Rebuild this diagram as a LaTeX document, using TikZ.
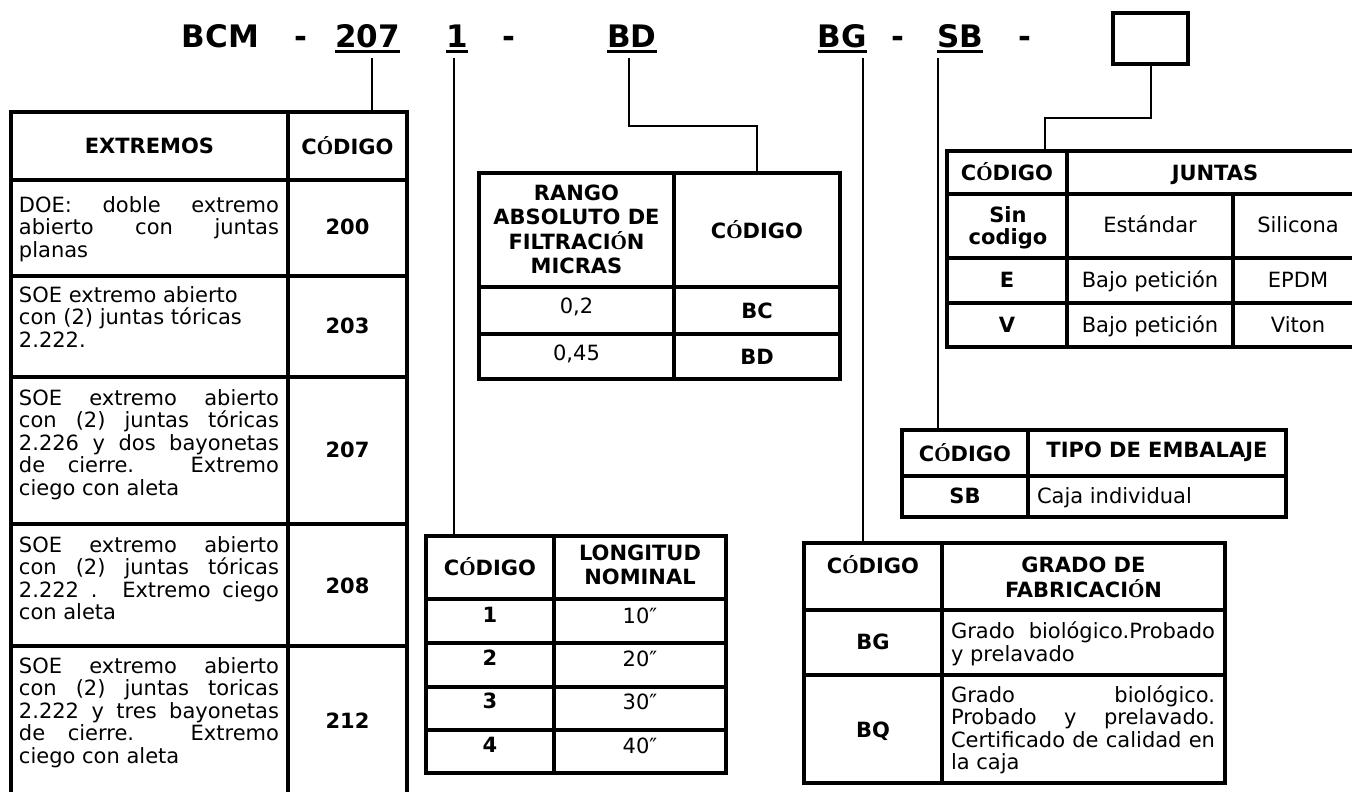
\documentclass[tikz,border=0pt]{standalone}
\usepackage{fontspec}
\setmainfont{DejaVu Sans}
\newfontfamily\serifO{Liberation Serif}
\newcommand\OO{{\serifO\bfseries Ó}}
\newcommand\jl[1]{\makebox[260pt][s]{#1}}
\newcommand\jg[1]{\makebox[264pt][s]{#1}}
\begin{document}
\begin{tikzpicture}[x=1pt,y=-1pt,
 tbl/.style={draw, line width=3.2pt, inner sep=0pt, outer sep=0pt, anchor=north west},
 rule/.style={line width=3.2pt},
 conn/.style={line width=2.2pt},
 tx/.style={inner sep=0pt, outer sep=0pt, anchor=base, font=\fontsize{21}{22.5}\selectfont},
 txl/.style={tx, anchor=base west},
 tb/.style={tx, font=\fontsize{21}{22.5}\selectfont\bfseries},
 ttl/.style={inner sep=0pt, outer sep=0pt, anchor=base, font=\fontsize{31}{31}\selectfont\bfseries},
 uline/.style={line width=3pt},
]
\useasboundingbox (0,0) rectangle (1352,792);
\clip (0,0) rectangle (1352,792);

% ---------- title ----------
\node[ttl] (tBCM) at (220.5,48) {BCM};
\node[ttl] (td1) at (300.5,48) {-};
\node[ttl] (t207) at (367.5,48) {207};
\node[ttl] (t1) at (457,48) {1};
\node[ttl] (td2) at (509,48) {-};
\node[ttl] (tBD) at (632,48) {BD};
\node[ttl] (tBG) at (842.5,48) {BG};
\node[ttl] (td3) at (897.5,48) {-};
\node[ttl] (tSB) at (960,48) {SB};
\node[ttl] (td4) at (1025,48) {-};
\foreach \n in {t207,t1,tBD,tBG,tSB}
  \draw[uline] ([yshift=-4pt]\n.base west) -- ([yshift=-4pt]\n.base east);
\node[tbl, minimum width=75pt, minimum height=51pt] (box) at (1113,13) {};

% ---------- tables (outer frames) ----------
\node[tbl, minimum width=396pt, minimum height=700pt] (ext) at (11,112) {};
\node[tbl, minimum width=361pt, minimum height=206pt] (rng) at (479,173) {};
\node[tbl, minimum width=300pt, minimum height=237pt] (lon) at (426,536) {};
\node[tbl, minimum width=421pt, minimum height=240pt] (gra) at (804,543) {};
\node[tbl, minimum width=420pt, minimum height=196pt] (jun) at (947,151) {};
\node[tbl, minimum width=384pt, minimum height=87pt] (tip) at (902,430) {};

% ---------- connectors ----------
\coordinate (k207) at (372,58);
\coordinate (k1) at (454,58);
\coordinate (kBD) at (629,58);
\coordinate (kBDa) at (629,126);
\coordinate (kBDb) at (757,126);
\coordinate (kBG) at (863,58);
\coordinate (kSB) at (938,58);
\coordinate (kbx) at (1151,118);
\coordinate (kbj) at (1045,118);
\draw[conn] (k207) -- (k207 |- ext.north);
\draw[conn] (k1) -- (k1 |- lon.north);
\draw[conn] (kBD) -- (kBDa) -- (kBDb) -- (kBDb |- rng.north);
\draw[conn] (kBG) -- (kBG |- gra.north);
\draw[conn] (kSB) -- (kSB |- tip.north);
\draw[conn] (box.south -| kbx) -- (kbx) -- (kbj) -- (kbj |- jun.north);

% ---------- EXTREMOS table ----------
\draw[rule] (288,112) -- (288,800);
\foreach \yy in {180,276,377,524,646} \draw[rule] (11,\yy) -- (407,\yy);
\node[tb] (eh1) at (149.5,153) {EXTREMOS};
\node[tb] (eh2) at (347.5,154) {C\OO DIGO};
\node[txl] (e1a) at (19,212) {\jl{DOE: doble extremo}};
\node[txl] (e1b) at (19,234.5) {\jl{abierto con juntas}};
\node[txl] (e1c) at (19,257) {planas};
\node[tb] (e1k) at (347.5,234) {200};
\node[txl] (e2a) at (19,302) {SOE extremo abierto};
\node[txl] (e2b) at (19,324.5) {con (2) juntas tóricas};
\node[txl] (e2c) at (19,347) {2.222.};
\node[tb] (e2k) at (347.5,333) {203};
\node[txl] (e3a) at (19,405) {\jl{SOE extremo abierto}};
\node[txl] (e3b) at (19,427.5) {\jl{con (2) juntas tóricas}};
\node[txl] (e3c) at (19,450) {\jl{2.226 y dos bayonetas}};
\node[txl] (e3d) at (19,472.5) {\jl{de cierre. Extremo}};
\node[txl] (e3e) at (19,495) {ciego con aleta};
\node[tb] (e3k) at (347.5,457) {207};
\node[txl] (e4a) at (19,552) {\jl{SOE extremo abierto}};
\node[txl] (e4b) at (19,574.5) {\jl{con (2) juntas tóricas}};
\node[txl] (e4c) at (19,597) {\jl{2.222 . Extremo ciego}};
\node[txl] (e4d) at (19,619.5) {con aleta};
\node[tb] (e4k) at (347.5,593) {208};
\node[txl] (e5a) at (19,673) {\jl{SOE extremo abierto}};
\node[txl] (e5b) at (19,695.5) {\jl{con (2) juntas toricas}};
\node[txl] (e5c) at (19,718) {\jl{2.222 y tres bayonetas}};
\node[txl] (e5d) at (19,740.5) {\jl{de cierre. Extremo}};
\node[txl] (e5e) at (19,763) {ciego con aleta};
\node[tb] (e5k) at (347.5,728) {212};

% ---------- RANGO table ----------
\draw[rule] (674,173) -- (674,379);
\foreach \yy in {287,334} \draw[rule] (479,\yy) -- (840,\yy);
\node[tb] (r1) at (576.5,200) {RANGO};
\node[tb] (r2) at (576.5,224.5) {ABSOLUTO DE};
\node[tb] (r3) at (576.5,249) {FILTRACI\OO N};
\node[tb] (r4) at (576.5,273.5) {MICRAS};
\node[tb] (rh) at (757,238) {C\OO DIGO};
\node[tx] (rv1) at (576.5,313) {0,2};
\node[tb] (rk1) at (757,318) {BC};
\node[tx] (rv2) at (576.5,360) {0,45};
\node[tb] (rk2) at (757,364) {BD};

% ---------- LONGITUD table ----------
\draw[rule] (554,536) -- (554,773);
\foreach \yy in {599,643,687,730} \draw[rule] (426,\yy) -- (726,\yy);
\node[tb] (lh1) at (490,575) {C\OO DIGO};
\node[tb] (lh2) at (640,560) {LONGITUD};
\node[tb] (lh3) at (640,584) {NOMINAL};
\node[tb] (lk1) at (490,622) {1};
\node[tx] (lv1) at (640,623) {10″};
\node[tb] (lk2) at (490,665) {2};
\node[tx] (lv2) at (640,666) {20″};
\node[tb] (lk3) at (490,708) {3};
\node[tx] (lv3) at (640,709) {30″};
\node[tb] (lk4) at (490,752) {4};
\node[tx] (lv4) at (640,753) {40″};

% ---------- GRADO table ----------
\draw[rule] (942,543) -- (942,783);
\foreach \yy in {610,675} \draw[rule] (804,\yy) -- (1225,\yy);
\node[tb] (gh1) at (873,573) {C\OO DIGO};
\node[tb] (gh2) at (1083.5,572) {GRADO DE};
\node[tb] (gh3) at (1083.5,597) {FABRICACI\OO N};
\node[tb] (gk1) at (873,649) {BG};
\node[txl] (g1a) at (951,638.5) {\jg{Grado biológico.Probado}};
\node[txl] (g1b) at (951,661.5) {y prelavado};
\node[tb] (gk2) at (873,737) {BQ};
\node[txl] (g2a) at (951,702) {\jg{Grado biológico.}};
\node[txl] (g2b) at (951,724.5) {\jg{Probado y prelavado.}};
\node[txl] (g2c) at (951,747) {\jg{Certificado de calidad en}};
\node[txl] (g2d) at (951,769.5) {la caja};

% ---------- JUNTAS table ----------
\draw[rule] (1067,151) -- (1067,347);
\draw[rule] (1233,194) -- (1233,347);
\foreach \yy in {194,258,303} \draw[rule] (947,\yy) -- (1367,\yy);
\node[tb] (jh1) at (1007,180) {C\OO DIGO};
\node[tb] (jh2) at (1215,180) {JUNTAS};
\node[tb] (jk1a) at (1008,222) {Sin};
\node[tb] (jk1b) at (1008,244) {codigo};
\node[tx] (j1a) at (1150,232) {Estándar};
\node[tx] (j1b) at (1298,232) {Silicona};
\node[tb] (jk2) at (1007,287) {E};
\node[tx] (j2a) at (1150,287) {Bajo petición};
\node[tx] (j2b) at (1298,287) {EPDM};
\node[tb] (jk3) at (1007,332) {V};
\node[tx] (j3a) at (1150,332) {Bajo petición};
\node[tx] (j3b) at (1298,332) {Viton};

% ---------- TIPO table ----------
\draw[rule] (1028,430) -- (1028,517);
\draw[rule] (902,476) -- (1286,476);
\node[tb] (th1) at (965,461) {C\OO DIGO};
\node[tb] (th2) at (1157,457) {TIPO DE EMBALAJE};
\node[tb] (tk1) at (965,503) {SB};
\node[txl] (tv1) at (1037,503) {Caja individual};
\end{tikzpicture}
\end{document}
